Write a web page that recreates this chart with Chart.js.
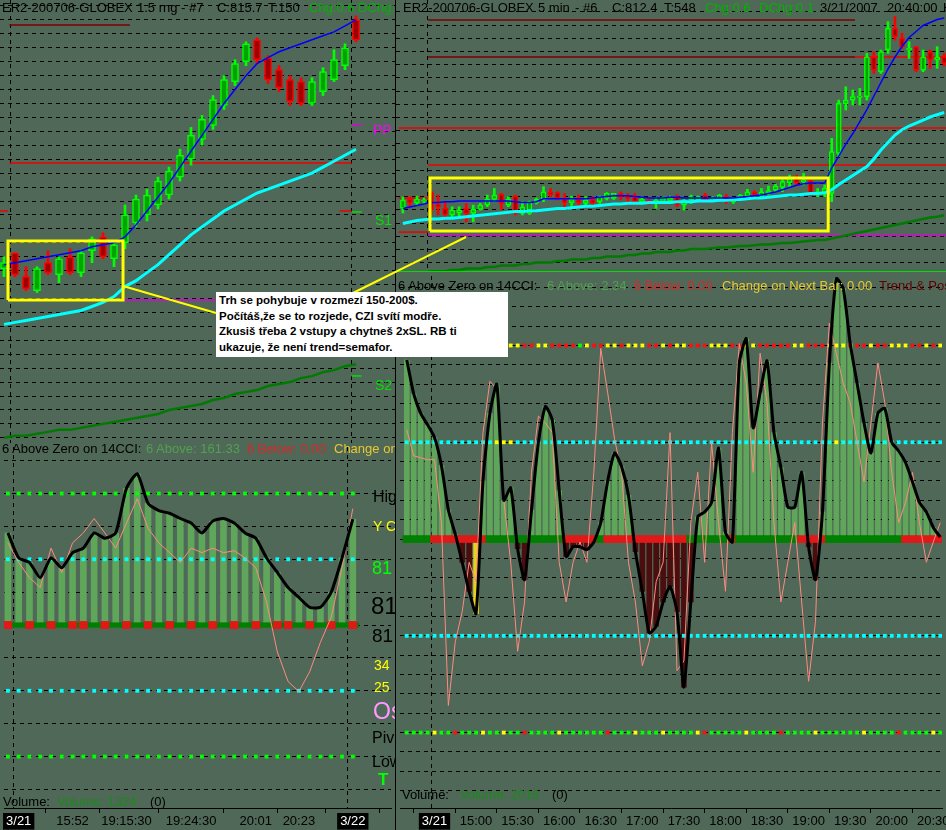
<!DOCTYPE html>
<html>
<head>
<meta charset="utf-8">
<script src="https://cdn.jsdelivr.net/npm/chart.js@4.4.1/dist/chart.umd.min.js"></script>
<style>
  body { margin: 0; background: #506857; }
  #wrap { position: relative; width: 946px; height: 830px; overflow: hidden; background: #506857;
          font-family: "Liberation Sans", Arial, sans-serif; }
  .pane { position: absolute; z-index: 1; }
  .t { position: absolute; white-space: nowrap; font-size: 13px; line-height: 16px; z-index: 2; }
  .clip { position: absolute; overflow: hidden; z-index: 2; }
  #note { position: absolute; left: 216px; top: 292px; width: 289px; height: 64px; background: #fff;
          z-index: 4; font-weight: bold; font-size: 11.5px; line-height: 15.6px; padding: 1px 0 0 3px; color: #000; }
</style>
</head>
<body>
<div id="wrap">
  <div class="pane" style="left:0;top:0"><canvas id="leftPrice" width="395" height="443"></canvas></div>
  <div class="pane" style="left:0;top:443px"><canvas id="leftCci" width="395" height="387"></canvas></div>
  <div class="pane" style="left:396px;top:0"><canvas id="rightPrice" width="550" height="272"></canvas></div>
  <div class="pane" style="left:396px;top:272px"><canvas id="rightCci" width="550" height="558"></canvas></div>

  <div style="position:absolute;left:395px;top:0;width:1px;height:830px;background:#000;z-index:3"></div>
  <div style="position:absolute;left:396px;top:271px;width:550px;height:1px;background:#00e000;z-index:3"></div>

  <!-- titles -->
  <div class="clip" style="left:0;top:0;width:395px;height:18px">
    <span class="t" style="left:2px;top:0">ER2-200706-GLOBEX</span>
    <span class="t" style="left:137px;top:0">1.5 rng - #7</span>
    <span class="t" style="left:217px;top:0">C:815.7</span>
    <span class="t" style="left:268px;top:0">T:150</span>
    <span class="t" style="left:309px;top:0;color:#00b400">Chg:0.6</span>
    <span class="t" style="left:358px;top:0;color:#00b400">DChg:</span>
  </div>
  <div class="clip" style="left:396px;top:0;width:550px;height:18px">
    <span class="t" style="left:7px;top:0">ER2-200706-GLOBEX</span>
    <span class="t" style="left:142px;top:0">5 min</span>
    <span class="t" style="left:179px;top:0">- #6</span>
    <span class="t" style="left:216px;top:0">C:812.4</span>
    <span class="t" style="left:268px;top:0">T:548</span>
    <span class="t" style="left:309px;top:0;color:#00b400">Chg:0.6</span>
    <span class="t" style="left:363px;top:0;color:#00b400">DChg:0.1</span>
    <span class="t" style="left:424px;top:0">3/21/2007</span>
    <span class="t" style="left:491px;top:0">20:40:00</span>
    <span class="t" style="left:547px;top:0">H</span>
  </div>
  <div class="clip" style="left:0;top:441px;width:395px;height:17px">
    <span class="t" style="left:2px;top:0">6 Above Zero on 14CCI:</span>
    <span class="t" style="left:146px;top:0;color:#52a052">6 Above: 161.33</span>
    <span class="t" style="left:247px;top:0;color:#d42a2a">6 Below: 0.00</span>
    <span class="t" style="left:334px;top:0;color:#e8c830">Change on</span>
  </div>
  <div class="clip" style="left:396px;top:278px;width:550px;height:17px">
    <span class="t" style="left:2px;top:0">6 Above Zero on 14CCI:</span>
    <span class="t" style="left:151px;top:0;color:#52a052">6 Above: 2.34</span>
    <span class="t" style="left:238px;top:0;color:#d42a2a">6 Below: 0.00</span>
    <span class="t" style="left:326px;top:0;color:#e8c830">Change on Next Bar: 0.00</span>
    <span class="t" style="left:483px;top:0;color:#600000">Trend &amp; Pos</span>
  </div>

  <!-- right-hand labels of the left pane -->
  <div class="clip" style="left:360px;top:0;width:35px;height:830px">
    <span class="t" style="left:13px;top:122px;font-size:14px;color:#ff00ff">PP</span>
    <span class="t" style="left:15px;top:212px;font-size:14px;color:#00e000">S1</span>
    <span class="t" style="left:15px;top:377px;font-size:14px;color:#00e000">S2</span>
    <span class="t" style="left:13px;top:488px;font-size:16px;line-height:18px">High</span>
    <span class="t" style="left:13px;top:518px;font-size:14px;color:#ffff00">Y C</span>
    <span class="t" style="left:12px;top:558px;font-size:18px;line-height:20px;color:#00ff00">81</span>
    <span class="t" style="left:11px;top:593px;font-size:24px;line-height:26px">81</span>
    <span class="t" style="left:12px;top:625px;font-size:19px;line-height:21px">81</span>
    <span class="t" style="left:14px;top:657px;font-size:14px;color:#ffff00">34</span>
    <span class="t" style="left:14px;top:679px;font-size:14px;color:#ffff00">25</span>
    <span class="t" style="left:13px;top:699px;font-size:23px;line-height:25px;color:#ff99ff">Os</span>
    <span class="t" style="left:12px;top:729px;font-size:16px;line-height:18px">Piv</span>
    <span class="t" style="left:12px;top:753px;font-size:16px;line-height:18px">Low</span>
    <span class="t" style="left:18px;top:770px;font-size:17px;line-height:19px;color:#00ff00;font-weight:bold">T</span>
  </div>

  <!-- volume captions -->
  <span class="t" style="left:3px;top:794px">Volume:</span>
  <span class="t" style="left:57px;top:794px;color:#1a8a1a">Volume: 1324</span>
  <span class="t" style="left:150px;top:794px">(0)</span>
  <span class="t" style="left:402px;top:787px">Volume:</span>
  <span class="t" style="left:460px;top:787px;color:#1a8a1a">Volume: 2016</span>
  <span class="t" style="left:552px;top:787px">(0)</span>

  <svg width="946" height="830" style="position:absolute;left:0;top:0;z-index:3">
    <line x1="123" y1="286" x2="216" y2="313" stroke="#ffff00" stroke-width="2"/>
    <line x1="466" y1="237" x2="353" y2="293" stroke="#ffff00" stroke-width="2"/>
  </svg>

  <div id="note">Trh se pohybuje v rozmezí 150-200$.<br>Počítáš,že se to rozjede, CZI svítí modře.<br>Zkusiš třeba 2 vstupy a chytneš 2xSL. RB ti<br>ukazuje, že není trend=semafor.</div>
</div>

<script>
const FONT = '"Liberation Sans", Arial, sans-serif';

// ---------- left chart: 1.5 range bars, bar index 0..32 ----------
const leftOpen  = [804.2, 805.0, 803.8, 803.1, 804.5, 803.9, 804.8, 804.0, 805.1, 805.8, 804.7, 805.5, 806.5, 806.9, 807.4, 807.9, 808.8, 809.7, 810.7, 811.4, 812.4, 813.6, 814.6, 815.7, 814.8, 814.2, 813.7, 813.6, 812.5, 813.1, 813.7, 814.4, 816.7];
const leftHigh  = [804.8, 805.0, 804.3, 804.3, 805.1, 804.8, 805.2, 805.1, 805.8, 806.0, 805.6, 807.4, 807.9, 808.2, 808.8, 809.3, 810.2, 811.3, 811.9, 812.9, 813.9, 814.7, 815.6, 815.8, 814.9, 814.4, 813.9, 813.8, 813.8, 814.3, 815.2, 815.5, 816.9];
const leftLow   = [803.8, 803.8, 803.1, 803.0, 803.9, 803.5, 803.9, 803.8, 804.5, 804.7, 804.3, 805.2, 806.3, 806.6, 807.2, 807.7, 808.6, 809.4, 810.4, 811.2, 812.2, 813.4, 814.4, 814.5, 813.5, 813.1, 812.4, 812.4, 812.4, 812.9, 813.6, 814.2, 815.6];
const leftClose = [804.5, 803.9, 803.2, 804.2, 804.0, 804.7, 804.0, 805.0, 805.7, 804.8, 805.4, 806.9, 807.7, 807.9, 808.6, 809.1, 809.9, 810.9, 811.7, 812.7, 813.7, 814.5, 815.5, 814.7, 813.7, 813.3, 812.6, 812.5, 813.6, 814.1, 814.7, 815.3, 815.7];
const leftBlue  = [804.4, 804.5, 804.6, 804.7, 804.8, 804.9, 805.0, 805.1, 805.3, 805.4, 805.5, 805.8, 806.4, 807.1, 807.8, 808.5, 809.3, 810.1, 810.9, 811.7, 812.5, 813.2, 813.9, 814.5, 814.8, 815.1, 815.3, 815.5, 815.7, 815.9, 816.1, 816.4, 816.7];
const leftCyan  = [801.4, 801.5, 801.6, 801.7, 801.8, 801.9, 802.0, 802.1, 802.3, 802.5, 802.8, 803.3, 803.6, 804.0, 804.4, 804.9, 805.4, 805.9, 806.3, 806.7, 807.1, 807.4, 807.7, 808.0, 808.2, 808.4, 808.6, 808.8, 809.0, 809.3, 809.6, 809.9, 810.2];
const leftGreen = [795.7, 795.8, 795.8, 795.9, 796.0, 796.1, 796.1, 796.2, 796.3, 796.4, 796.5, 796.6, 796.7, 796.8, 796.9, 797.1, 797.2, 797.3, 797.4, 797.6, 797.7, 797.9, 798.0, 798.1, 798.3, 798.4, 798.5, 798.7, 798.8, 799.0, 799.1, 799.3, 799.4];
const leftCci   = [140, 102, 95, 72, 102, 87, 110, 117, 140, 132, 140, 208, 230, 185, 174, 170, 162, 155, 140, 158, 162, 155, 140, 132, 102, 80, 57, 42, 27, 27, 50, 102, 161];
const leftFast  = [125, 95, 72, 57, 117, 80, 125, 140, 162, 140, 117, 155, 192, 147, 125, 110, 95, 117, 110, 117, 110, 113, 102, 87, 35, -41, -86, -101, -71, -26, 12, 87, 177];
const leftTrend = ['rgrgrgrrgrg', 'rgrgrgrgrgr', 'grgrrgrgrgr'].join('');
const leftTimeIdx    = [1, 6, 11, 17, 23, 27, 32];
const leftTimeLabels = ['3/21', '15:52', '19:15:30', '19:24:30', '20:01', '20:23', '3/22'];
const leftDaySep = [0.5, 31.5];
// pivot / range levels: price, from bar, to bar, kind
const leftLevelPrice = [816.45, 809.51, 807.1, 807.1, 802.63, 811.42, 807.05, 798.81];
const leftLevelFrom  = [0.5, 0.5, -0.4, 30.5, 10.8, 31.6, 31.6, 31.6];
const leftLevelTo    = [11.45, 31.6, 0.35, 31.6, 31.6, 32.5, 32.5, 32.5];
const leftLevelKind  = ['d', 'r', 'r', 'r', 'm', 'm', 'g', 'g'];
const leftBoxX = [0.36, 10.82];
const leftBoxY = [802.63, 805.59];

// ---------- right chart: 5 min bars, bar index -4..73 (0 = 3/21 14:30) ----------
const rightFirst = -4;
const rightOpen = [803.13, 803.73, 803.47, 803.6,
  804.22, 803.4, 803.11, 802.67, 802.82, 803.11, 802.78, 803.04, 803.33, 803.71,
  804.04, 803.33, 803.93, 802.78, 802.78, 803.49, 803.71, 804.22, 804.16, 803.78,
  803.49, 803.71, 803.44, 803.71, 803.56, 803.78, 803.78, 804.11, 804.0, 803.89,
  803.56, 803.67, 803.44, 803.56, 803.62, 803.89, 803.33, 803.67, 803.67, 804.0,
  803.67, 803.67, 803.93, 803.56, 803.78, 803.93, 804.22, 803.93, 804.11, 804.33,
  804.51, 804.82, 805.11, 804.89, 804.96, 804.11, 804.11, 804.11, 806.78, 810.07,
  810.33, 810.51, 810.56, 813.22, 812.22, 813.67, 815.11, 814.44, 813.67, 813.89,
  812.33, 813.56, 813.0, 813.22];
const rightHigh = [803.87, 803.87, 803.93, 803.8,
  804.25, 804.0, 803.56, 803.22, 803.22, 803.44, 803.33, 803.44, 804.0, 804.44,
  804.11, 803.89, 804.0, 803.56, 803.6, 803.8, 804.56, 804.44, 804.22, 804.11,
  803.93, 804.0, 803.89, 803.89, 803.93, 804.16, 804.11, 804.22, 804.11, 804.11,
  803.84, 803.71, 803.84, 803.89, 803.93, 804.0, 803.71, 804.0, 803.93, 804.11,
  803.89, 804.04, 804.04, 803.84, 804.04, 804.38, 804.29, 804.44, 804.6, 804.73,
  805.0, 805.33, 805.33, 805.44, 805.0, 804.44, 804.67, 807.78, 810.33, 811.22,
  811.0, 811.11, 813.44, 813.56, 813.67, 815.56, 815.89, 814.78, 814.22, 813.89,
  813.67, 813.67, 813.89, 813.44];
const rightLow = [802.8, 803.2, 803.3, 803.4,
  802.78, 802.67, 802.56, 802.51, 802.44, 802.22, 802.22, 803.0, 803.22, 803.56,
  803.0, 803.22, 802.67, 802.67, 802.7, 803.4, 803.56, 803.89, 803.67, 803.22,
  803.22, 803.33, 803.33, 803.33, 803.44, 803.67, 803.71, 803.67, 803.56, 803.44,
  803.44, 803.4, 803.11, 803.49, 803.56, 803.22, 803.0, 803.44, 803.56, 803.62,
  803.56, 803.62, 803.44, 803.44, 803.71, 803.84, 803.93, 803.84, 804.0, 804.22,
  804.22, 804.56, 804.67, 804.67, 804.0, 803.89, 803.89, 803.56, 806.56, 809.67,
  810.0, 810.0, 810.33, 812.11, 812.11, 813.44, 814.33, 813.78, 813.11, 812.22,
  812.22, 812.44, 812.44, 812.6];
const rightClose = [803.67, 803.47, 803.73, 803.67,
  803.0, 803.22, 802.67, 803.0, 803.0, 802.73, 803.04, 803.33, 803.71, 804.0,
  803.44, 803.71, 802.78, 803.2, 803.56, 803.71, 804.22, 804.0, 803.78, 803.49,
  803.71, 803.49, 803.67, 803.44, 803.89, 804.11, 804.11, 803.89, 803.78, 803.56,
  803.71, 803.44, 803.67, 803.78, 803.84, 803.33, 803.67, 803.89, 803.89, 803.67,
  803.78, 804.0, 803.67, 803.71, 804.0, 804.22, 804.0, 804.22, 804.29, 804.6,
  804.89, 805.11, 804.82, 805.0, 804.11, 804.22, 804.44, 806.89, 810.11, 810.33,
  810.56, 810.6, 813.22, 812.33, 813.56, 815.11, 814.56, 813.89, 813.78, 812.33,
  813.22, 813.0, 813.22, 812.78];
const rightBlue = [803.1, 803.2, 803.3, 803.4,
  803.5, 803.5, 803.55, 803.55, 803.6, 803.6, 803.6, 803.6, 803.6, 803.6,
  803.6, 803.6, 803.55, 803.5, 803.5, 803.55, 803.75, 803.75, 803.75, 803.75,
  803.75, 803.75, 803.75, 803.8, 803.85, 803.9, 803.95, 803.95, 803.95, 803.9,
  803.85, 803.8, 803.8, 803.8, 803.85, 803.85, 803.8, 803.8, 803.8, 803.8,
  803.8, 803.8, 803.8, 803.8, 803.85, 803.9, 803.95, 804.0, 804.1, 804.2,
  804.35, 804.5, 804.65, 804.75, 804.8, 804.8, 804.8, 805.8, 806.6, 807.4,
  808.1, 808.9, 809.7, 810.6, 811.5, 812.4, 813.2, 813.9, 814.5, 814.9,
  815.3, 815.5, 815.7, 815.8];
const rightCyan = [802.1, 802.2, 802.3, 802.35,
  802.4, 802.4, 802.45, 802.45, 802.5, 802.55, 802.6, 802.65, 802.7, 802.75,
  802.8, 802.85, 802.9, 802.9, 802.95, 802.95, 803.0, 803.05, 803.1, 803.1,
  803.15, 803.2, 803.25, 803.25, 803.3, 803.35, 803.4, 803.4, 803.45, 803.45,
  803.45, 803.5, 803.5, 803.5, 803.5, 803.55, 803.55, 803.55, 803.6, 803.6,
  803.6, 803.65, 803.65, 803.7, 803.7, 803.75, 803.8, 803.8, 803.85, 803.9,
  803.95, 804.0, 804.0, 804.05, 804.1, 804.1, 804.15, 804.35, 804.7, 805.0,
  805.3, 805.6, 805.9, 806.4, 807.0, 807.5, 808.0, 808.35, 808.6, 808.8,
  809.0, 809.2, 809.35, 809.5];
const rightGreen = [798.7, 798.7, 798.8, 798.8,
  798.9, 798.9, 798.9, 799.0, 799.0, 799.1, 799.1, 799.1, 799.2, 799.2,
  799.3, 799.3, 799.3, 799.4, 799.4, 799.5, 799.5, 799.5, 799.6, 799.6,
  799.7, 799.7, 799.7, 799.8, 799.8, 799.9, 799.9, 799.9, 800.0, 800.0,
  800.1, 800.1, 800.2, 800.2, 800.2, 800.3, 800.3, 800.4, 800.4, 800.4,
  800.45, 800.5, 800.5, 800.55, 800.6, 800.6, 800.65, 800.7, 800.7, 800.75,
  800.8, 800.8, 800.85, 800.9, 800.95, 801.0, 801.0, 801.1, 801.2, 801.3,
  801.4, 801.5, 801.6, 801.7, 801.8, 801.9, 802.0, 802.1, 802.2, 802.3,
  802.4, 802.5, 802.55, 802.65];
const rightCci = [185, 150, 130, 118,
  105, 76, 30, 5, -24, -54, -77, 60, 130, 160,
  40, 53, -10, -42, 30, 100, 137, 123, 50, -18,
  -8, -8, -11, -3, 17, 60, 89, 75, 45, -13,
  -54, -97, -90, -65, -49, -75, -153, -65, 23, 28,
  38, 94, 7, -3, 182, 207, 115, 151, 184, 110,
  74, 33, 33, 69, -8, -42, 28, 182, 269, 259,
  202, 161, 120, 89, 130, 135, 100, 91, 79, 59,
  38, 28, 12, 2];
const rightFast = [113, 86, 84, 82,
  82, 17, -172, -106, -75, -24, -44, 110, 163, 155,
  40, -24, -116, -65, 69, 127, 120, 110, -24, -65,
  -24, -3, -24, 69, 197, 151, 103, 69, -24, -65,
  -131, -106, -44, -24, 110, -136, -126, 17, 69, -24,
  100, 17, -54, 110, 202, 161, 69, 192, 141, 17,
  -65, -24, 17, -65, -147, -85, 120, 223, 192, 161,
  141, 100, 59, 120, 182, 141, 69, 17, 38, 69,
  17, -24, -3, 17];
const rightYellowBars = [6];
const rightTrend = ['gggg', 'rrrrrrrr', 'ggggggggggg', 'rrrrr', 'g', 'rrrrrrrrrrrr', 'gggggg', 'r', 'ggggggggg', 'rrrr', 'ggggggggggg', 'rrrrrr'].join('');
const rightRowP200 = ['yyrryrrgyy', 'rryryyyrry', 'yrrrrgyrry', 'yryyyrryry', 'yrrryyyrry', 'yrrrrryyrr', 'ryyyrrryrr', 'yyyrryry'].join('');
const rightRowM200 = ['ggggyggrgg', 'gyggyggrgg', 'ggyggggggr', 'gggygggygg', 'ggyrgggggy', 'ggggrggggy', 'ggggggyggg', 'grggggyg'].join('');
const rightRowP100 = ['cccccccccc', 'cccyyycccc', 'c'.repeat(38), 'ccccyccccc', 'cccccccccc'].join('');
const rightTimeIdx    = [0, 6, 12, 18, 24, 30, 36, 42, 48, 54, 60, 66, 72];
const rightTimeLabels = ['3/21', '15:00', '15:30', '16:00', '16:30', '17:00', '17:30', '18:00', '18:30', '19:00', '19:30', '20:00', '20:30'];
const rightDaySep = [-0.5];
const rightLevelPrice = [815.67, 813.2, 813.2, 808.47, 806.0, 803.8, 801.53, 801.31];
const rightLevelFrom  = [-0.4, -0.4, 60.3, -4.6, -0.4, -4.6, -4.6, -0.4];
const rightLevelTo    = [60.3, 60.3, 73.3, 73.3, 73.3, -0.4, -0.4, 73.3];
const rightLevelKind  = ['d', 'd', 'r', 'r', 'r', 'r', 'r', 'm'];
const rightBoxX = [-0.14, 56.5];
const rightBoxY = [801.6, 805.13];

// ---------- styling ----------
const LEVEL_COLOR = { d: '#7a0000', r: '#ee0000', m: '#dd00dd', g: '#00e000' };
const ROW_COLOR = { r: '#ff1010', y: '#ffff00', g: '#00ff00', c: '#00ffff' };
const BAR_GREEN = '#5fa65a';

// vertical dashed day separators
const daySep = {
  id: 'daySep',
  beforeDatasetsDraw(chart, args, opts) {
    const { ctx, chartArea } = chart;
    const x = chart.scales.x;
    ctx.save();
    ctx.strokeStyle = '#000';
    ctx.lineWidth = 1;
    ctx.setLineDash([4, 4]);
    (opts.values || []).forEach(v => {
      const px = Math.round(x.getPixelForValue(v)) + 0.5;
      ctx.beginPath();
      ctx.moveTo(px, chartArea.top);
      ctx.lineTo(px, chartArea.bottom);
      ctx.stroke();
    });
    ctx.restore();
  }
};
Chart.register(daySep);

function gridTicks(anchor, step) {
  return ax => {
    const t = [];
    const k0 = Math.floor((ax.min - anchor) / step), k1 = Math.ceil((ax.max - anchor) / step);
    for (let k = k0; k <= k1; k++) {
      const v = anchor + k * step;
      if (v > ax.min && v < ax.max) t.push({ value: v });
    }
    ax.ticks = t;
  };
}

function yAxis(min, max, anchor, step) {
  return {
    type: 'linear', min: min, max: max,
    afterFit: s => { s.width = 0; s.paddingTop = 0; s.paddingBottom = 0; },
    afterBuildTicks: gridTicks(anchor, step),
    ticks: { display: false },
    grid: { color: '#000', lineWidth: 1, drawTicks: false },
    border: { display: false, dash: [4, 4] }
  };
}

function baseOptions(xScale, yScale, seps) {
  return {
    responsive: false, animation: false, devicePixelRatio: 1, events: [],
    layout: { padding: 0 },
    plugins: { legend: { display: false }, tooltip: { enabled: false }, daySep: { values: seps } },
    scales: { x: xScale, y: yScale }
  };
}

function timeAxis(min, max, idx, labels) {
  const isDate = i => labels[i] && labels[i].indexOf('/') >= 0;
  return {
    type: 'linear', min: min, max: max, offset: false, position: 'bottom',
    afterBuildTicks: ax => { ax.ticks = idx.map(v => ({ value: v })); },
    afterFit: s => { s.height = 22; s.paddingLeft = 0; s.paddingRight = 0; },
    ticks: {
      autoSkip: false, maxRotation: 0, minRotation: 0, padding: 1,
      font: { family: FONT, size: 13 },
      callback: (v, i) => labels[i],
      color: ctx => isDate(ctx.index) ? '#ffffff' : '#000000',
      showLabelBackdrop: true,
      backdropColor: ctx => isDate(ctx.index) ? '#000000' : 'rgba(0,0,0,0)',
      backdropPadding: { top: 1, bottom: 0, left: 3, right: 3 }
    },
    grid: { drawOnChartArea: false, drawTicks: true, tickLength: 5, color: '#000' },
    border: { display: true, color: '#000' }
  };
}

function candleSets(x0, O, H, L, C, bodyW) {
  const up = O.map((o, i) => C[i] >= o);
  return [
    {
      type: 'bar', grouped: false, order: 2, barThickness: 2,
      data: O.map((o, i) => ({ x: x0 + i, y: [L[i], H[i]] })),
      backgroundColor: up.map(u => u ? '#00ff00' : '#ff0000')
    },
    {
      type: 'bar', grouped: false, order: 1, barThickness: bodyW,
      data: O.map((o, i) => ({ x: x0 + i, y: [Math.min(o, C[i]), Math.max(o, C[i])] })),
      backgroundColor: up.map(u => u ? '#00a400' : '#a00000'),
      borderColor: up.map(u => u ? '#00ff00' : '#ff0000'),
      borderWidth: 1.5, borderSkipped: false
    }
  ];
}

function lineSet(x0, vals, color, width, order, tension) {
  return {
    type: 'line', order: order, data: vals.map((v, i) => ({ x: x0 + i, y: v })),
    borderColor: color, borderWidth: width, pointRadius: 0, tension: tension || 0
  };
}

function levelSets(P, F, T, K) {
  return P.map((p, i) => ({
    type: 'line', order: 5, data: [{ x: F[i], y: p }, { x: T[i], y: p }],
    borderColor: LEVEL_COLOR[K[i]], borderWidth: 1.5, pointRadius: 0
  }));
}

function boxSet(bx, by) {
  return {
    type: 'line', order: -1,
    data: [{ x: bx[0], y: by[0] }, { x: bx[1], y: by[0] }, { x: bx[1], y: by[1] }, { x: bx[0], y: by[1] }, { x: bx[0], y: by[0] }],
    borderColor: '#ffff00', borderWidth: 3, pointRadius: 0
  };
}

function rowSet(x0, codes, level) {
  const c = codes.split('');
  return {
    type: 'line', order: 3, showLine: false,
    data: c.map((ch, i) => ({ x: x0 + i, y: level })),
    pointStyle: 'rect', pointRadius: 2.7, pointBorderWidth: 0,
    pointBackgroundColor: c.map(ch => ROW_COLOR[ch])
  };
}

// ---------- left price ----------
const L_XMIN = -0.364, L_XMAX = -0.364 + 395 / 11;
new Chart(document.getElementById('leftPrice'), {
  type: 'bar',
  data: {
    datasets: [
      boxSet(leftBoxX, leftBoxY),
      lineSet(0, leftBlue, '#0000ff', 1.5, 0),
      lineSet(0, leftCyan, '#00ffff', 3, 0),
      lineSet(0, leftGreen, '#007a00', 2.5, 4),
      ...candleSets(0, leftOpen, leftHigh, leftLow, leftClose, 7),
      ...levelSets(leftLevelPrice, leftLevelFrom, leftLevelTo, leftLevelKind)
    ]
  },
  options: baseOptions(
    { type: 'linear', min: L_XMIN, max: L_XMAX, offset: false, display: false },
    yAxis(795.44, 817.70, 816.70, 0.7),
    leftDaySep)
});

// ---------- left CCI ----------
const leftN = leftCci.length;
new Chart(document.getElementById('leftCci'), {
  type: 'bar',
  data: {
    datasets: [
      lineSet(0, leftCci, '#000000', 3, 0, 0.2),
      lineSet(0, leftFast, '#ff8a80', 1, 1),
      rowSet(0, 'g'.repeat(leftN), 200),
      rowSet(0, 'c'.repeat(leftN), 100),
      rowSet(0, 'c'.repeat(leftN), -100),
      rowSet(0, 'g'.repeat(leftN), -200),
      {
        type: 'bar', grouped: false, order: 4, barThickness: 8,
        data: leftTrend.split('').map((ch, i) => ({ x: i, y: ch === 'r' ? [-5.5, 5.5] : null })),
        backgroundColor: '#e01818'
      },
      {
        type: 'bar', grouped: false, order: 5, barThickness: 12,
        data: leftCci.map((v, i) => ({ x: i, y: [-3.5, 3.5] })),
        backgroundColor: '#008000'
      },
      {
        type: 'bar', grouped: false, order: 6, barThickness: 6,
        data: leftCci.map((v, i) => ({ x: i, y: v })),
        backgroundColor: BAR_GREEN
      }
    ]
  },
  options: baseOptions(
    timeAxis(L_XMIN, L_XMAX, leftTimeIdx, leftTimeLabels),
    yAxis(-278.2, 270.7, 0, 50),
    leftDaySep)
});

// ---------- right price ----------
const R_XMIN = -4.98, R_XMAX = -4.98 + 550 / 7.03;
new Chart(document.getElementById('rightPrice'), {
  type: 'bar',
  data: {
    datasets: [
      boxSet(rightBoxX, rightBoxY),
      lineSet(rightFirst, rightBlue, '#0000ff', 1.5, 0),
      lineSet(rightFirst, rightCyan, '#00ffff', 3, 0),
      lineSet(rightFirst, rightGreen, '#007a00', 2.5, 4),
      ...candleSets(rightFirst, rightOpen, rightHigh, rightLow, rightClose, 5),
      ...levelSets(rightLevelPrice, rightLevelFrom, rightLevelTo, rightLevelKind)
    ]
  },
  options: baseOptions(
    { type: 'linear', min: R_XMIN, max: R_XMAX, offset: false, display: false },
    yAxis(798.87, 817.0, 815.33, 0.88),
    rightDaySep)
});

// ---------- right CCI ----------
const rightN = rightCci.length;
new Chart(document.getElementById('rightCci'), {
  type: 'bar',
  data: {
    datasets: [
      lineSet(rightFirst, rightCci, '#000000', 3, 0, 0.2),
      lineSet(rightFirst, rightFast, '#ff8a80', 1, 1),
      rowSet(rightFirst, rightRowP200, 200),
      rowSet(rightFirst, rightRowP100, 100),
      rowSet(rightFirst, 'c'.repeat(rightN), -100),
      rowSet(rightFirst, rightRowM200, -200),
      {
        type: 'bar', grouped: false, order: 4, barThickness: 8,
        data: rightTrend.split('').map((ch, i) => ({ x: rightFirst + i, y: [-3.6, 3.6] })),
        backgroundColor: rightTrend.split('').map(ch => ch === 'r' ? '#e01818' : '#008000')
      },
      {
        type: 'bar', grouped: false, order: 6, barThickness: 5,
        data: rightCci.map((v, i) => ({ x: rightFirst + i, y: v })),
        backgroundColor: rightCci.map((v, i) =>
          rightYellowBars.indexOf(rightFirst + i) >= 0 ? '#e8d020' : (v >= 0 ? BAR_GREEN : '#4a0e0e'))
      }
    ]
  },
  options: baseOptions(
    timeAxis(R_XMIN, R_XMAX, rightTimeIdx, rightTimeLabels),
    yAxis(-277.9, 271.8, 0, 20),
    rightDaySep)
});
</script>
</body>
</html>
